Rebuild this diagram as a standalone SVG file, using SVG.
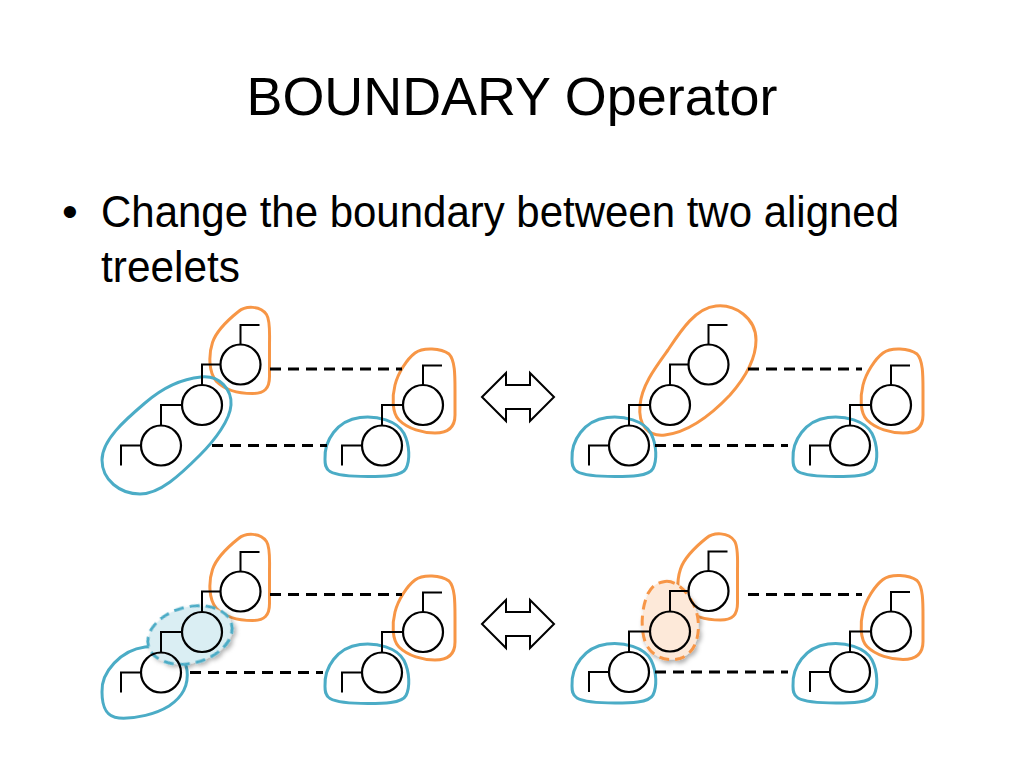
<svg xmlns="http://www.w3.org/2000/svg" xmlns:xlink="http://www.w3.org/1999/xlink" width="1024" height="768" viewBox="0 0 1024 768">
<style>
.node circle{fill:none;stroke:#000;stroke-width:2.2}
.edge{fill:none;stroke:#000;stroke-width:2}
.align{fill:none;stroke:#000;stroke-width:3;stroke-dasharray:11 7}
.or{fill:none;stroke:#F79646;stroke-width:3}
.cy{fill:none;stroke:#4BACC6;stroke-width:3}
.cyd{fill:#DAEEF3;stroke:#4BACC6;stroke-width:3;stroke-dasharray:10 6}
.ord{fill:#FDE9D9;stroke:#F79646;stroke-width:3;stroke-dasharray:10 6}
.arrow{fill:#fff;stroke:#000;stroke-width:2;stroke-linejoin:miter}
text{font-family:"Liberation Sans",Arial,sans-serif;fill:#000}
</style>
<defs>
<path id="blobA" d="M -2,-53 C 5,-59 20,-59 26,-50 C 30,-44 29,-30 29,-20 L 29,12 C 29,24 24,29 12,29 C 0,29 -15,26 -24,17 C -32,8 -32,-10 -28,-22 C -24,-34 -12,-45 -2,-53 Z"/>
<path id="blobD" d="M -8,-52 C 0,-58 18,-57 26,-51 C 32,-45 32,-30 32,-15 L 32,10 C 32,22 25,28 12,28 C 0,28 -15,24 -24,15 C -31,8 -31,-8 -28,-20 C -25,-32 -16,-46 -8,-52 Z"/>
<path id="blobE" d="M -57,14 C -58,-5 -45,-25 -22,-28 C -5,-30 15,-25 22,-12 C 28,0 28,15 24,23 C 20,31 0,31 -14,31 C -30,31 -45,30 -52,26 C -57,23 -57,18 -57,14 Z"/>
<filter id="shadow" x="-30%" y="-30%" width="160%" height="160%">
<feDropShadow dx="2" dy="3" stdDeviation="2" flood-color="#000" flood-opacity="0.3"/>
</filter>
</defs>
<rect width="1024" height="768" fill="#fff"/>

<text x="512" y="115" font-size="54" text-anchor="middle" textLength="531" lengthAdjust="spacingAndGlyphs">BOUNDARY Operator</text>
<text x="70" y="227" font-size="45" text-anchor="middle">•</text>
<text x="101" y="227" font-size="45" textLength="798" lengthAdjust="spacingAndGlyphs">Change the boundary between two aligned</text>
<text x="101" y="282" font-size="45" textLength="139" lengthAdjust="spacingAndGlyphs">treelets</text>

<!-- boundaries -->
<g id="boundaries">
<g id="tl-boundaries">
<use xlink:href="#blobA" class="or" transform="translate(240.5,364.5)"/>
<path class="cy" d="M 201,377 C 220,375 232,390 231,405 C 230,420 215,440 200,455 C 180,475 160,494 140,494 C 120,494 102,480 102,460 C 102,440 125,420 145,403 C 160,390 180,379 201,377 Z"/>
<use xlink:href="#blobD" class="or" transform="translate(423,405)"/>
<use xlink:href="#blobE" class="cy" transform="translate(382,445.5)"/>
</g>
<g id="tr-boundaries" transform="translate(468,0)">
<path class="or" d="M 248,306 C 267,304 288,318 288,340 C 288,360 277,378 262,395 C 244,414 222,432 197,435 C 180,437 170,425 172,405 C 174,385 187,368 200,350 C 212,332 227,308 248,306 Z"/>
<use xlink:href="#blobE" class="cy" transform="translate(161,445.5)"/>
<use xlink:href="#blobD" class="or" transform="translate(423,405)"/>
<use xlink:href="#blobE" class="cy" transform="translate(382,445.5)"/>
</g>
<g id="bl-boundaries" transform="translate(0,227)">
<use xlink:href="#blobA" class="or" transform="translate(240.5,364.5)"/>
<path class="cy" transform="translate(161,445)" d="M -59,20 C -60,0 -40,-22 -16,-25 C 5,-28 24,-18 26,-2 C 28,14 20,26 8,34 C -5,42 -25,47 -42,46 C -55,45 -59,35 -59,20 Z"/>
<ellipse class="cyd" filter="url(#shadow)" cx="190" cy="408" rx="43" ry="28" transform="rotate(-15 190 408)"/>
<use xlink:href="#blobD" class="or" transform="translate(423,405)"/>
<use xlink:href="#blobE" class="cy" transform="translate(382,445.5)"/>
</g>
<g id="br-boundaries" transform="translate(468,226.5)">
<use xlink:href="#blobA" class="or" transform="translate(240.5,364.5)"/>
<path class="ord" filter="url(#shadow)" transform="translate(202,405)" d="M -5,-50 C 10,-52 26,-30 28,-12 C 30,5 25,22 10,27 C -5,31 -20,24 -25,10 C -30,-5 -28,-25 -22,-38 C -17,-47 -12,-49 -5,-50 Z"/>
<use xlink:href="#blobE" class="cy" transform="translate(161,445.5)"/>
<use xlink:href="#blobD" class="or" transform="translate(423,405)"/>
<use xlink:href="#blobE" class="cy" transform="translate(382,445.5)"/>
</g>
</g>

<!-- connectors -->
<g id="connectors">
<g transform="translate(0,0)">
<path class="edge" d="M 220.5,364.5 H 202 V 385"/>
<path class="edge" d="M 182,405 H 161 V 425.5"/>
<path class="edge" d="M 403,405 H 382 V 425.5"/>
<path class="align" d="M 270,369 H 402"/>
<path class="align" d="M 212,445.5 H 327"/>
</g>
<g transform="translate(468,0)">
<path class="edge" d="M 220.5,364.5 H 202 V 385"/>
<path class="edge" d="M 182,405 H 161 V 425.5"/>
<path class="edge" d="M 403,405 H 382 V 425.5"/>
<path class="align" d="M 280,369 H 394"/>
<path class="align" d="M 187,445.5 H 320"/>
</g>
<g transform="translate(0,227)">
<path class="edge" d="M 220.5,364.5 H 202 V 385"/>
<path class="edge" d="M 182,405 H 161 V 425.5"/>
<path class="edge" d="M 403,405 H 382 V 425.5"/>
<path class="align" d="M 270,367.5 H 402"/>
<path class="align" d="M 190,445.5 H 323"/>
</g>
<g transform="translate(468,226.5)">
<path class="edge" d="M 220.5,364.5 H 202 V 385"/>
<path class="edge" d="M 182,405 H 161 V 425.5"/>
<path class="edge" d="M 403,405 H 382 V 425.5"/>
<path class="align" d="M 280,368 H 394"/>
<path class="align" d="M 187,445.5 H 320"/>
</g>
</g>

<!-- nodes -->
<g id="tl-nodes">
<g id="tl-A" class="node"><circle cx="240.5" cy="364.5" r="20"/><path class="edge" d="M 240.5,344.5 V 325 H 259.5"/></g>
<g id="tl-B" class="node"><circle cx="202" cy="405" r="20"/></g>
<g id="tl-C" class="node"><circle cx="161" cy="445.5" r="20"/><path class="edge" d="M 141,445.5 H 121 V 465.5"/></g>
<g id="tl-D" class="node"><circle cx="423" cy="405" r="20"/><path class="edge" d="M 423,385 V 365.5 H 442"/></g>
<g id="tl-E" class="node"><circle cx="382" cy="445.5" r="20"/><path class="edge" d="M 362,445.5 H 342 V 465.5"/></g>
</g>
<g id="tr-nodes" transform="translate(468,0)">
<g id="tr-A" class="node"><circle cx="240.5" cy="364.5" r="20"/><path class="edge" d="M 240.5,344.5 V 325 H 259.5"/></g>
<g id="tr-B" class="node"><circle cx="202" cy="405" r="20"/></g>
<g id="tr-C" class="node"><circle cx="161" cy="445.5" r="20"/><path class="edge" d="M 141,445.5 H 121 V 465.5"/></g>
<g id="tr-D" class="node"><circle cx="423" cy="405" r="20"/><path class="edge" d="M 423,385 V 365.5 H 442"/></g>
<g id="tr-E" class="node"><circle cx="382" cy="445.5" r="20"/><path class="edge" d="M 362,445.5 H 342 V 465.5"/></g>
</g>
<g id="bl-nodes" transform="translate(0,227)">
<g id="bl-A" class="node"><circle cx="240.5" cy="364.5" r="20"/><path class="edge" d="M 240.5,344.5 V 325 H 259.5"/></g>
<g id="bl-B" class="node"><circle cx="202" cy="405" r="20"/></g>
<g id="bl-C" class="node"><circle cx="161" cy="445.5" r="20"/><path class="edge" d="M 141,445.5 H 121 V 465.5"/></g>
<g id="bl-D" class="node"><circle cx="423" cy="405" r="20"/><path class="edge" d="M 423,385 V 365.5 H 442"/></g>
<g id="bl-E" class="node"><circle cx="382" cy="445.5" r="20"/><path class="edge" d="M 362,445.5 H 342 V 465.5"/></g>
</g>
<g id="br-nodes" transform="translate(468,226.5)">
<g id="br-A" class="node"><circle cx="240.5" cy="364.5" r="20"/><path class="edge" d="M 240.5,344.5 V 325 H 259.5"/></g>
<g id="br-B" class="node"><circle cx="202" cy="405" r="20"/></g>
<g id="br-C" class="node"><circle cx="161" cy="445.5" r="20"/><path class="edge" d="M 141,445.5 H 121 V 465.5"/></g>
<g id="br-D" class="node"><circle cx="423" cy="405" r="20"/><path class="edge" d="M 423,385 V 365.5 H 442"/></g>
<g id="br-E" class="node"><circle cx="382" cy="445.5" r="20"/><path class="edge" d="M 362,445.5 H 342 V 465.5"/></g>
</g>

<!-- double arrows -->
<g id="arrow-top"><polygon class="arrow" points="482,397 506,373 506,385 530,385 530,373 554,397 530,421 530,409 506,409 506,421"/></g>
<g id="arrow-bottom"><polygon class="arrow" points="482,624 506,600 506,612 530,612 530,600 554,624 530,648 530,636 506,636 506,648"/></g>
</svg>
